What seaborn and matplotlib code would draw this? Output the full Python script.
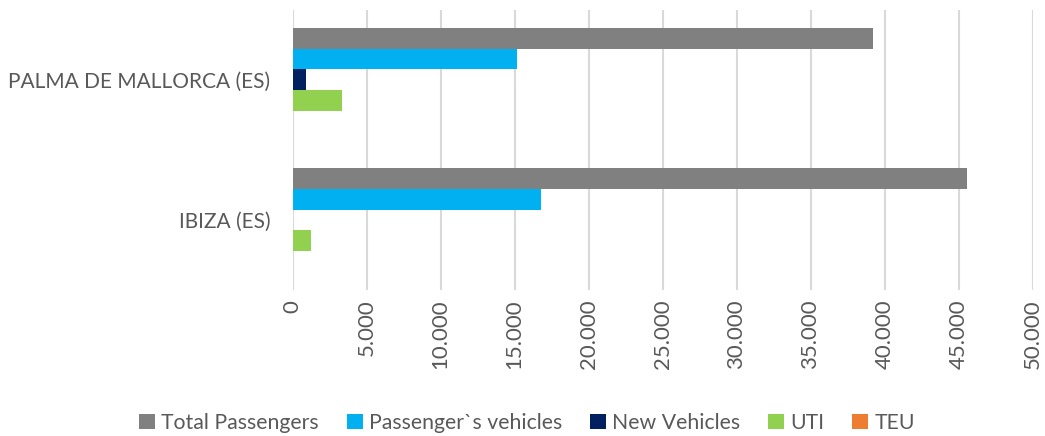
import numpy as np
import pandas as pd
import matplotlib
matplotlib.use("Agg")
import matplotlib.pyplot as plt
import seaborn as sns
from matplotlib.ticker import FuncFormatter, MultipleLocator

ports = ["PALMA DE MALLORCA (ES)", "IBIZA (ES)"]
series = ["Total Passengers", "Passenger`s vehicles", "New Vehicles", "UTI", "TEU"]
total_passengers = [39220, 45570]
passenger_vehicles = [15150, 16770]
new_vehicles = [910, 0]
uti = [3340, 1230]
teu = [0, 0]

colors = ["#808080", "#00B0F0", "#002060", "#92D050", "#ED7D31"]

rows = []
for vals, name in zip([total_passengers, passenger_vehicles, new_vehicles, uti, teu], series):
    for port, v in zip(ports, vals):
        rows.append({"port": port, "series": name, "value": v})
df = pd.DataFrame(rows)

sns.set_style("white")
plt.rcParams["font.family"] = ["Lato", "DejaVu Sans"]

fig = plt.figure(figsize=(10.45, 4.36), dpi=100)
ax = fig.add_axes([292.5 / 1045, 1 - 290 / 436, 740 / 1045, 280.5 / 436])

sns.barplot(data=df, y="port", x="value", hue="series", order=ports, hue_order=series,
            palette=colors, orient="h", width=0.735, saturation=1, linewidth=0,
            ax=ax, legend=True)

ax.set_xlim(0, 50000)
ax.xaxis.set_major_locator(MultipleLocator(5000))
ax.xaxis.set_major_formatter(FuncFormatter(lambda v, p: f"{int(v):,}".replace(",", ".")))
ax.grid(axis="x", color="#d9d9d9", linewidth=1.5)
ax.set_axisbelow(True)
for s in ax.spines.values():
    s.set_visible(False)
ax.tick_params(axis="x", labelrotation=90, labelsize=16, colors="#595959", length=0, pad=7)
ax.tick_params(axis="y", labelsize=15, colors="#595959", length=0, pad=16)
ax.set_xlabel("")
ax.set_ylabel("")

handles, labels = ax.get_legend_handles_labels()
ax.legend(handles, labels, loc="center", bbox_to_anchor=(527 / 1045, 1 - 423 / 436),
          bbox_transform=fig.transFigure, ncol=5, frameon=False, fontsize=15.3,
          handlelength=0.75, handleheight=0.75, handletextpad=0.3, columnspacing=1.3,
          labelcolor="#595959")

fig.savefig("out.png", dpi=100)
